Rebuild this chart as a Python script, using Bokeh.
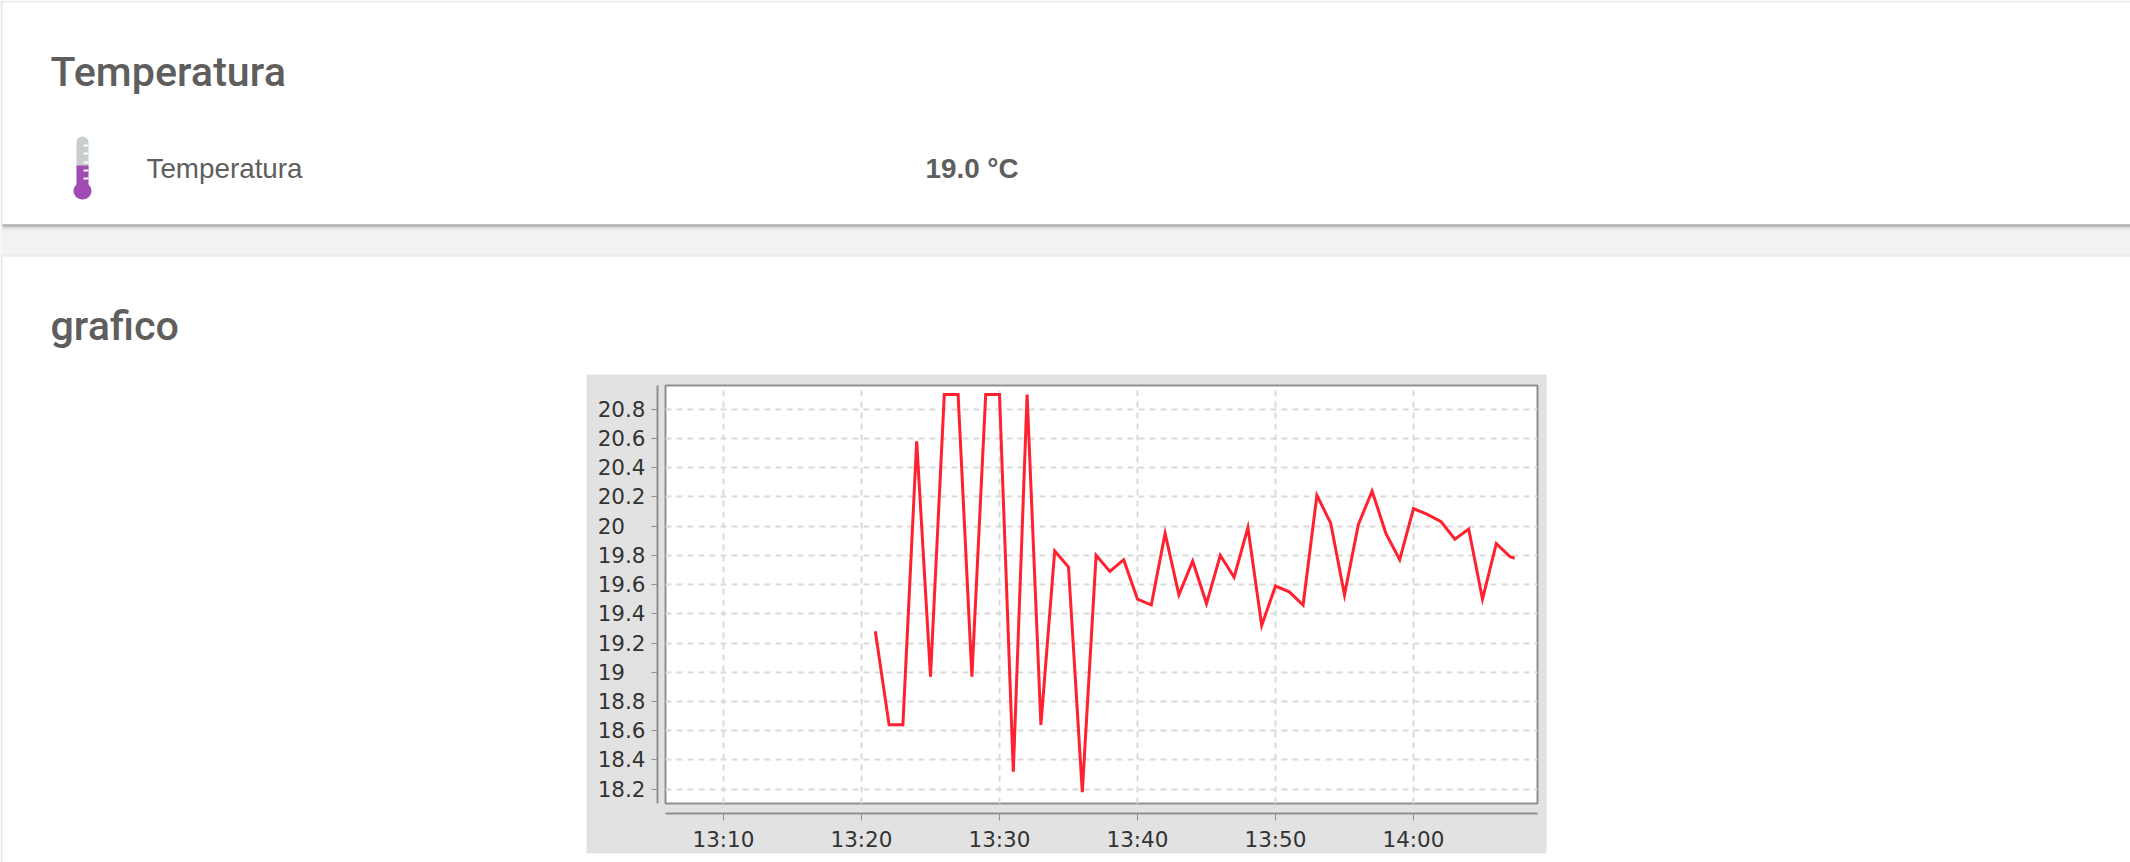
from datetime import datetime
from bokeh.plotting import figure
from bokeh.models import BoxAnnotation, Label, FixedTicker, Range1d, DatetimeTickFormatter
from bokeh.embed import file_html
from bokeh.resources import INLINE

minutes = ["13:21","13:22","13:23","13:24","13:25","13:26","13:27","13:28","13:29","13:30",
           "13:31","13:32","13:33","13:34","13:35","13:36","13:37","13:38","13:39","13:40",
           "13:41","13:42","13:43","13:44","13:45","13:46","13:47","13:48","13:49","13:50",
           "13:51","13:52","13:53","13:54","13:55","13:56","13:57","13:58","13:59","14:00",
           "14:01","14:02","14:03","14:04","14:05","14:06","14:07","14:07:20"]
temps = [19.28,18.64,18.64,20.58,18.97,20.90,20.90,18.97,20.90,20.90,
         18.32,20.90,18.64,19.83,19.72,18.18,19.80,19.69,19.77,19.50,
         19.46,19.95,19.53,19.76,19.47,19.80,19.65,19.99,19.32,19.59,
         19.55,19.46,20.21,20.02,19.53,20.01,20.24,19.95,19.77,20.12,
         20.08,20.03,19.91,19.98,19.50,19.88,19.79,19.78]
x_tick_labels = ["13:10","13:20","13:30","13:40","13:50","14:00"]
y_ticks = [18.2,18.4,18.6,18.8,19.0,19.2,19.4,19.6,19.8,20.0,20.2,20.4,20.6,20.8]
# the two whole numbers are set flush left in the column, so they carry padding on the right
y_tick_labels = ["18.2","18.4","18.6","18.8","19\u2008\u2007","19.2","19.4","19.6","19.8",
                 "20\u2008\u2007","20.2","20.4","20.6","20.8"]


def t(s, extra_min=0.0):
    parts = [int(v) for v in s.split(":")] + [0]
    d = datetime(2018, 1, 1, parts[0], parts[1], parts[2])
    return (d - datetime(1970, 1, 1)).total_seconds() * 1000 + extra_min * 60000


W, H = 2130, 862
PXM = 13.8      # pixels per minute
PXU = 146.15    # pixels per degree
X0 = 723        # page x of 13:10
Y0 = 408.67     # page y of 20.8


def px(v):  # page x -> axis value
    return t("13:10", (v - X0) / PXM)


def py(v):  # page y -> axis value
    return 20.8 - (v - Y0) / PXU


x_lo, x_hi = px(665), px(1537)
y_lo, y_hi = py(803), py(385)

p = figure(width=W, height=H, output_backend="svg", toolbar_location=None,
           x_axis_type="datetime",
           x_range=Range1d(px(0), px(W)),
           y_range=Range1d(py(H), py(0)),
           min_border=0,
           background_fill_color="#ffffff", border_fill_color="#ffffff",
           outline_line_color=None)


def box(l, r, tp, b, color, radius=0, level="image"):
    p.add_layout(BoxAnnotation(left=l, right=r, top=H - tp, bottom=H - b,
                               left_units="screen", right_units="screen",
                               top_units="screen", bottom_units="screen",
                               fill_color=color, fill_alpha=1, line_color=None,
                               level=level, border_radius=radius, editable=False))


def label(x, y, text, font, size, style="normal", color="#5e5e5e"):
    p.add_layout(Label(x=x, y=H - y, x_units="screen", y_units="screen", text=text,
                       text_font=font, text_font_size=size, text_font_style=style,
                       text_color=color, text_baseline="middle", text_align="left"))


# page chrome
box(0, W, 0, 2, "#ececec")
box(0, 2, 0, H, "#e8e8e8")
box(0, W, 224, 256, "#f3f3f3")
for y0, shade in [(224, "#8a8a8a"), (225, "#a0a0a0"), (226, "#bcbcbc"), (227, "#d2d2d2"),
                  (228, "#e2e2e2"), (229, "#ebebeb"), (230, "#efefef")]:
    box(2, W, y0, y0 + 1, shade)
box(0, W, 254, 256, "#ececec")
box(586, 1546, 374, 853, "#e2e2e2")

label(50, 71, "Temperatura", "Roboto Medium", "41.2px")
label(146, 168, "Temperatura", "Liberation Sans", "27.8px")
label(925, 168, "19.0 °C", "Liberation Sans", "27.8px", "bold")
label(50, 325.5, "grafico", "Roboto Medium", "41.2px")

# thermometer icon
box(76, 88, 136, 175, "#c8cdd0", radius=6, level="glyph")
box(76, 88, 165, 190, "#a24bb3", level="glyph")
box(73, 91, 182, 199, "#a24bb3", radius=9, level="glyph")
for ty in [145, 153, 162, 170, 178]:
    box(83, 88, ty - 1, ty + 1, "#ffffff", level="glyph")

# white plot box, through the data scales
p.add_layout(BoxAnnotation(left=x_lo, right=x_hi, bottom=y_lo, top=y_hi,
                           fill_color="#ffffff", fill_alpha=1, line_color="#8f8f8f", line_alpha=1,
                           line_width=2, level="image", editable=False))

x_ticks = [t(s) for s in x_tick_labels]
p.xaxis.ticker = FixedTicker(ticks=x_ticks)
p.xaxis.formatter = DatetimeTickFormatter(minutes="%H:%M", hours="%H:%M", minsec="%H:%M", context=None)
p.xaxis.bounds = (x_lo, x_hi)
p.xaxis.fixed_location = py(813)
p.xaxis.axis_line_color = "#8f8f8f"
p.xaxis.axis_line_width = 2
p.xaxis.major_tick_line_color = "#8f8f8f"
p.xaxis.major_tick_in = 0
p.xaxis.major_tick_out = 7
p.xaxis.minor_tick_line_color = None
p.xaxis.major_label_standoff = 6
p.xaxis.major_label_text_font = "DejaVu Sans"
p.xaxis.major_label_text_font_size = "21.5px"
p.xaxis.major_label_text_color = "#333333"

p.yaxis.ticker = FixedTicker(ticks=y_ticks)
p.yaxis.major_label_overrides = dict(zip(y_ticks, y_tick_labels))
p.yaxis.bounds = (y_lo, y_hi)
p.yaxis.fixed_location = px(657)
p.yaxis.axis_line_color = "#8f8f8f"
p.yaxis.axis_line_width = 2
p.yaxis.major_tick_line_color = "#8f8f8f"
p.yaxis.major_tick_in = 0
p.yaxis.major_tick_out = 6
p.yaxis.minor_tick_line_color = None
p.yaxis.major_label_standoff = 6
p.yaxis.major_label_text_font = "DejaVu Sans"
p.yaxis.major_label_text_font_size = "21.5px"
p.yaxis.major_label_text_color = "#333333"

p.xgrid.bounds = (x_lo, x_hi)
p.ygrid.bounds = (y_lo, y_hi)
for g, bnds in ((p.xgrid, (y_lo, y_hi)), (p.ygrid, (x_lo, x_hi))):
    g.grid_line_color = "#dadada"
    g.grid_line_width = 2
    g.grid_line_dash = "6 5"
    g.cross_bounds = bnds

p.line([t(s) for s in minutes], temps, line_color="#ff2030", line_width=3, line_join="miter")

open("out.html", "w").write(file_html(p, INLINE))
